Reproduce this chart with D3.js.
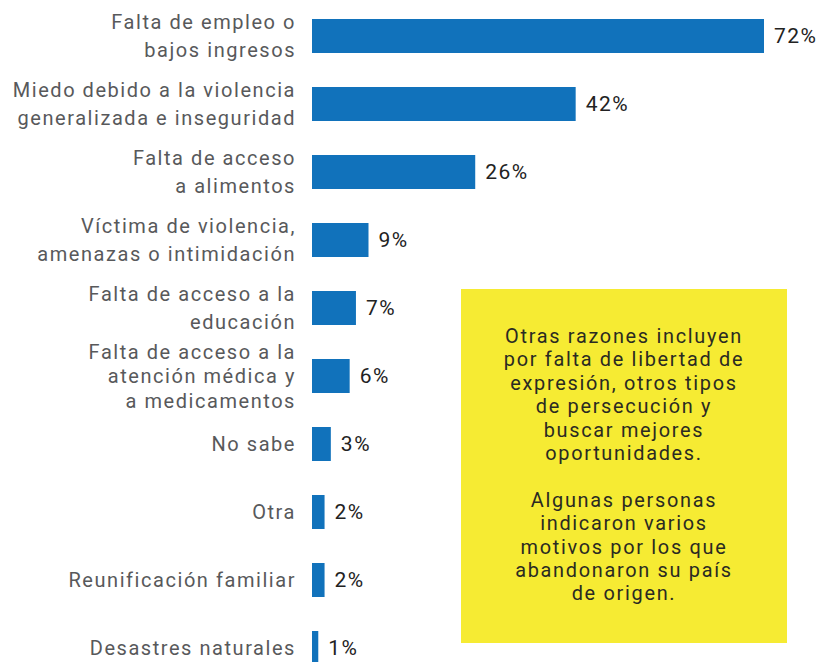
<!DOCTYPE html>
<html>
<head>
<meta charset="utf-8">
<script src="https://cdn.jsdelivr.net/npm/d3@7"></script>
<style>
  body { margin: 0; background: #fff; }
  svg { display: block; font-family: Roboto, "Open Sans", sans-serif; }
</style>
</head>
<body>
<svg></svg>
<script>
const categories = [
  ['Falta de empleo o', 'bajos ingresos'],
  ['Miedo debido a la violencia', 'generalizada e inseguridad'],
  ['Falta de acceso', 'a alimentos'],
  ['Víctima de violencia,', 'amenazas o intimidación'],
  ['Falta de acceso a la', 'educación'],
  ['Falta de acceso a la', 'atención médica y', 'a medicamentos'],
  ['No sabe'],
  ['Otra'],
  ['Reunificación familiar'],
  ['Desastres naturales'],
];
const values = [72, 42, 26, 9, 7, 6, 3, 2, 2, 1];
const noteLines = [
  'Otras razones incluyen',
  'por falta de libertad de',
  'expresión, otros tipos',
  'de persecución y',
  'buscar mejores',
  'oportunidades.',
  '',
  'Algunas personas',
  'indicaron varios',
  'motivos por los que',
  'abandonaron su país',
  'de origen.',
];

const width = 825;
const height = 662;

const data = categories.map((lines, i) => ({ lines, value: values[i], key: i }));

const svg = d3.select('svg')
  .attr('width', width)
  .attr('height', height);

const x = d3.scaleLinear()
  .domain([0, 72])
  .range([312, 764]);

const y = d3.scaleBand()
  .domain(data.map((d) => d.key))
  .range([19, 665])
  .paddingInner(0.5);

// yellow note box
svg.append('rect')
  .attr('x', 461)
  .attr('y', 289)
  .attr('width', 326)
  .attr('height', 354)
  .attr('fill', '#f6eb33');

svg.append('g')
  .selectAll('text')
  .data(noteLines)
  .enter()
  .append('text')
    .attr('x', 624)
    .attr('y', (d, i) => 336 + i * 23.4)
    .attr('dy', '0.35em')
    .attr('text-anchor', 'middle')
    .attr('fill', '#2a2a22')
    .style('font-size', '19.9px')
    .style('letter-spacing', '1.7px')
    .text((d) => d);

svg.append('g')
  .selectAll('rect')
  .data(data)
  .enter()
  .append('rect')
    .attr('x', x(0))
    .attr('y', (d) => y(d.key))
    .attr('width', (d) => x(d.value) - x(0))
    .attr('height', y.bandwidth())
    .attr('fill', '#1172bb');

svg.append('g')
  .selectAll('text')
  .data(data)
  .enter()
  .append('text')
    .attr('x', (d) => x(d.value) + 10)
    .attr('y', (d) => y(d.key) + y.bandwidth() / 2)
    .attr('dy', '0.35em')
    .attr('fill', '#222')
    .style('font-size', '21px')
    .style('letter-spacing', '1.5px')
    .text((d) => d.value + '%');

const labels = svg.append('g')
  .selectAll('text')
  .data(data)
  .enter()
  .append('text')
    .attr('text-anchor', 'end')
    .attr('fill', '#58595b')
    .style('font-size', '20px')
    .style('letter-spacing', '1.55px');

labels.each(function (d) {
  const n = d.lines.length;
  const lh = n > 2 ? 24.5 : 28;
  const cy = y(d.key) + y.bandwidth() / 2;
  d3.select(this)
    .selectAll('tspan')
    .data(d.lines)
    .enter()
    .append('tspan')
      .attr('x', 296)
      .attr('y', (l, i) => cy + (i - (n - 1) / 2) * lh)
      .attr('dy', '0.35em')
      .text((l) => l);
});
</script>
</body>
</html>
